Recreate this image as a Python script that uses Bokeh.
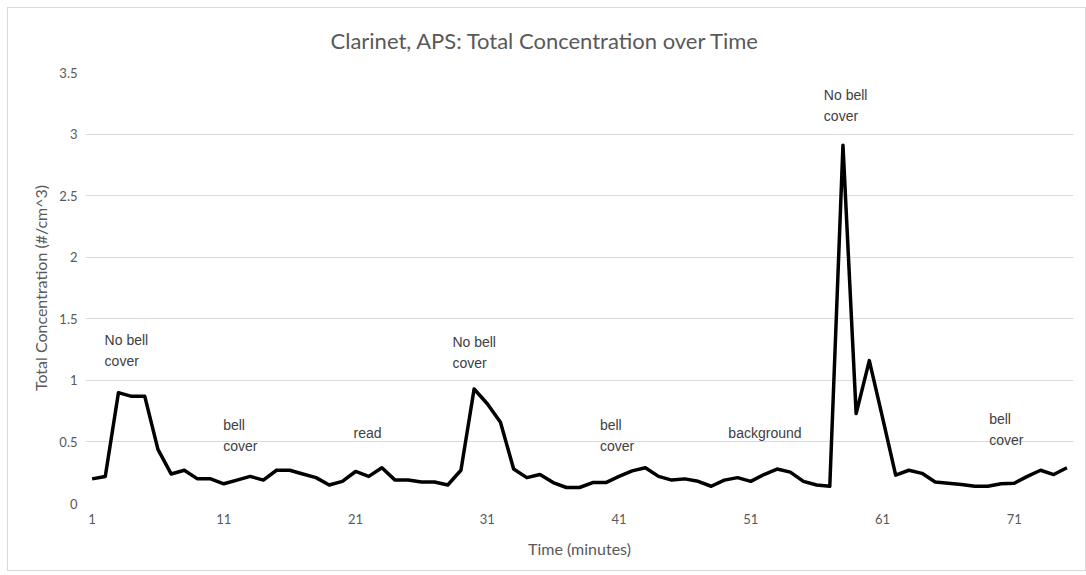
from bokeh.plotting import figure
from bokeh.models import FixedTicker, ColumnDataSource
from bokeh.core.properties import value
from bokeh.embed import file_html
from bokeh.resources import INLINE

time_min = list(range(1, 76))
concentration = [
    0.20, 0.22, 0.90, 0.87, 0.87, 0.44, 0.24, 0.27, 0.20, 0.20,
    0.16, 0.19, 0.22, 0.19, 0.27, 0.27, 0.24, 0.21, 0.15, 0.18,
    0.26, 0.22, 0.29, 0.19, 0.19, 0.175, 0.175, 0.15, 0.27, 0.93,
    0.81, 0.66, 0.28, 0.21, 0.235, 0.17, 0.13, 0.13, 0.17, 0.17,
    0.22, 0.265, 0.29, 0.22, 0.19, 0.20, 0.18, 0.14, 0.19, 0.21,
    0.18, 0.235, 0.28, 0.255, 0.18, 0.15, 0.14, 2.91, 0.73, 1.16,
    0.70, 0.23, 0.27, 0.245, 0.175, 0.165, 0.155, 0.14, 0.14, 0.16,
    0.165, 0.22, 0.27, 0.235, 0.29,
]
tick_labels = [str(t) for t in time_min[::10]]

note_text = ["No bell\ncover", "bell\ncover", "read", "No bell\ncover",
             "bell\ncover", "background", "No bell\ncover", "bell\ncover"]
note_x = [1.95, 10.95, 20.85, 28.35, 39.55, 49.3, 56.55, 69.1]
note_y = [1.39, 0.70, 0.64, 1.38, 0.70, 0.64, 3.38, 0.755]

p = figure(width=1079, height=564, x_range=(0.5, 75.5), y_range=(0, 3.5),
           output_backend="svg", toolbar_location=None,
           min_border_left=77, min_border_right=14, min_border_top=62, min_border_bottom=69,
           styles={"border": "1px solid #d9d9d9", "margin-left": "7px", "margin-top": "7px"})
p.outline_line_color = None

p.title.text = "Clarinet, APS: Total Concentration over Time"
p.title.align = "left"
p.title.offset = 245
p.title.vertical_align = "middle"
p.title.standoff = 35
p.title.text_font = "Lato"
p.title.text_font_size = "22px"
p.title.text_font_style = "normal"
p.title.text_color = "#595959"

p.xgrid.grid_line_color = None
p.ygrid.grid_line_color = "#d9d9d9"
p.ygrid.grid_line_width = 1

p.yaxis.ticker = FixedTicker(ticks=[0, 0.5, 1, 1.5, 2, 2.5, 3, 3.5])
p.xaxis.ticker = FixedTicker(ticks=time_min[::10])
p.xaxis.major_label_overrides = {t: s for t, s in zip(time_min[::10], tick_labels)}

for ax in (p.xaxis[0], p.yaxis[0]):
    ax.axis_line_color = None
    ax.major_tick_line_color = None
    ax.minor_tick_line_color = None
    ax.major_tick_out = 0
    ax.major_tick_in = 0
    ax.minor_tick_out = 0
    ax.major_label_text_color = "#595959"
    ax.major_label_text_font = "Lato"
    ax.major_label_text_font_size = "13px"
    ax.axis_label_text_color = "#595959"
    ax.axis_label_text_font = "Lato"
    ax.axis_label_text_font_size = "16px"
    ax.axis_label_text_font_style = "normal"

p.xaxis.axis_label = "Time (minutes)"
p.yaxis.axis_label = "Total Concentration (#/cm^3)"
p.yaxis.major_label_standoff = 8
p.xaxis.major_label_standoff = 10
p.xaxis.axis_label_standoff = 12
p.yaxis.axis_label_standoff = 6

src = ColumnDataSource(dict(x=time_min, y=concentration))
p.line("x", "y", source=src, line_color="black", line_width=3.5, line_join="round")

notes = ColumnDataSource(dict(x=note_x, y=note_y, text=note_text))
p.text("x", "y", text="text", source=notes, text_font=value("Liberation Sans"),
       text_font_size="14px", text_color="#404040", text_align="left",
       text_baseline="top", text_line_height=1.32)

open("out.html", "w").write(file_html(p, INLINE))
